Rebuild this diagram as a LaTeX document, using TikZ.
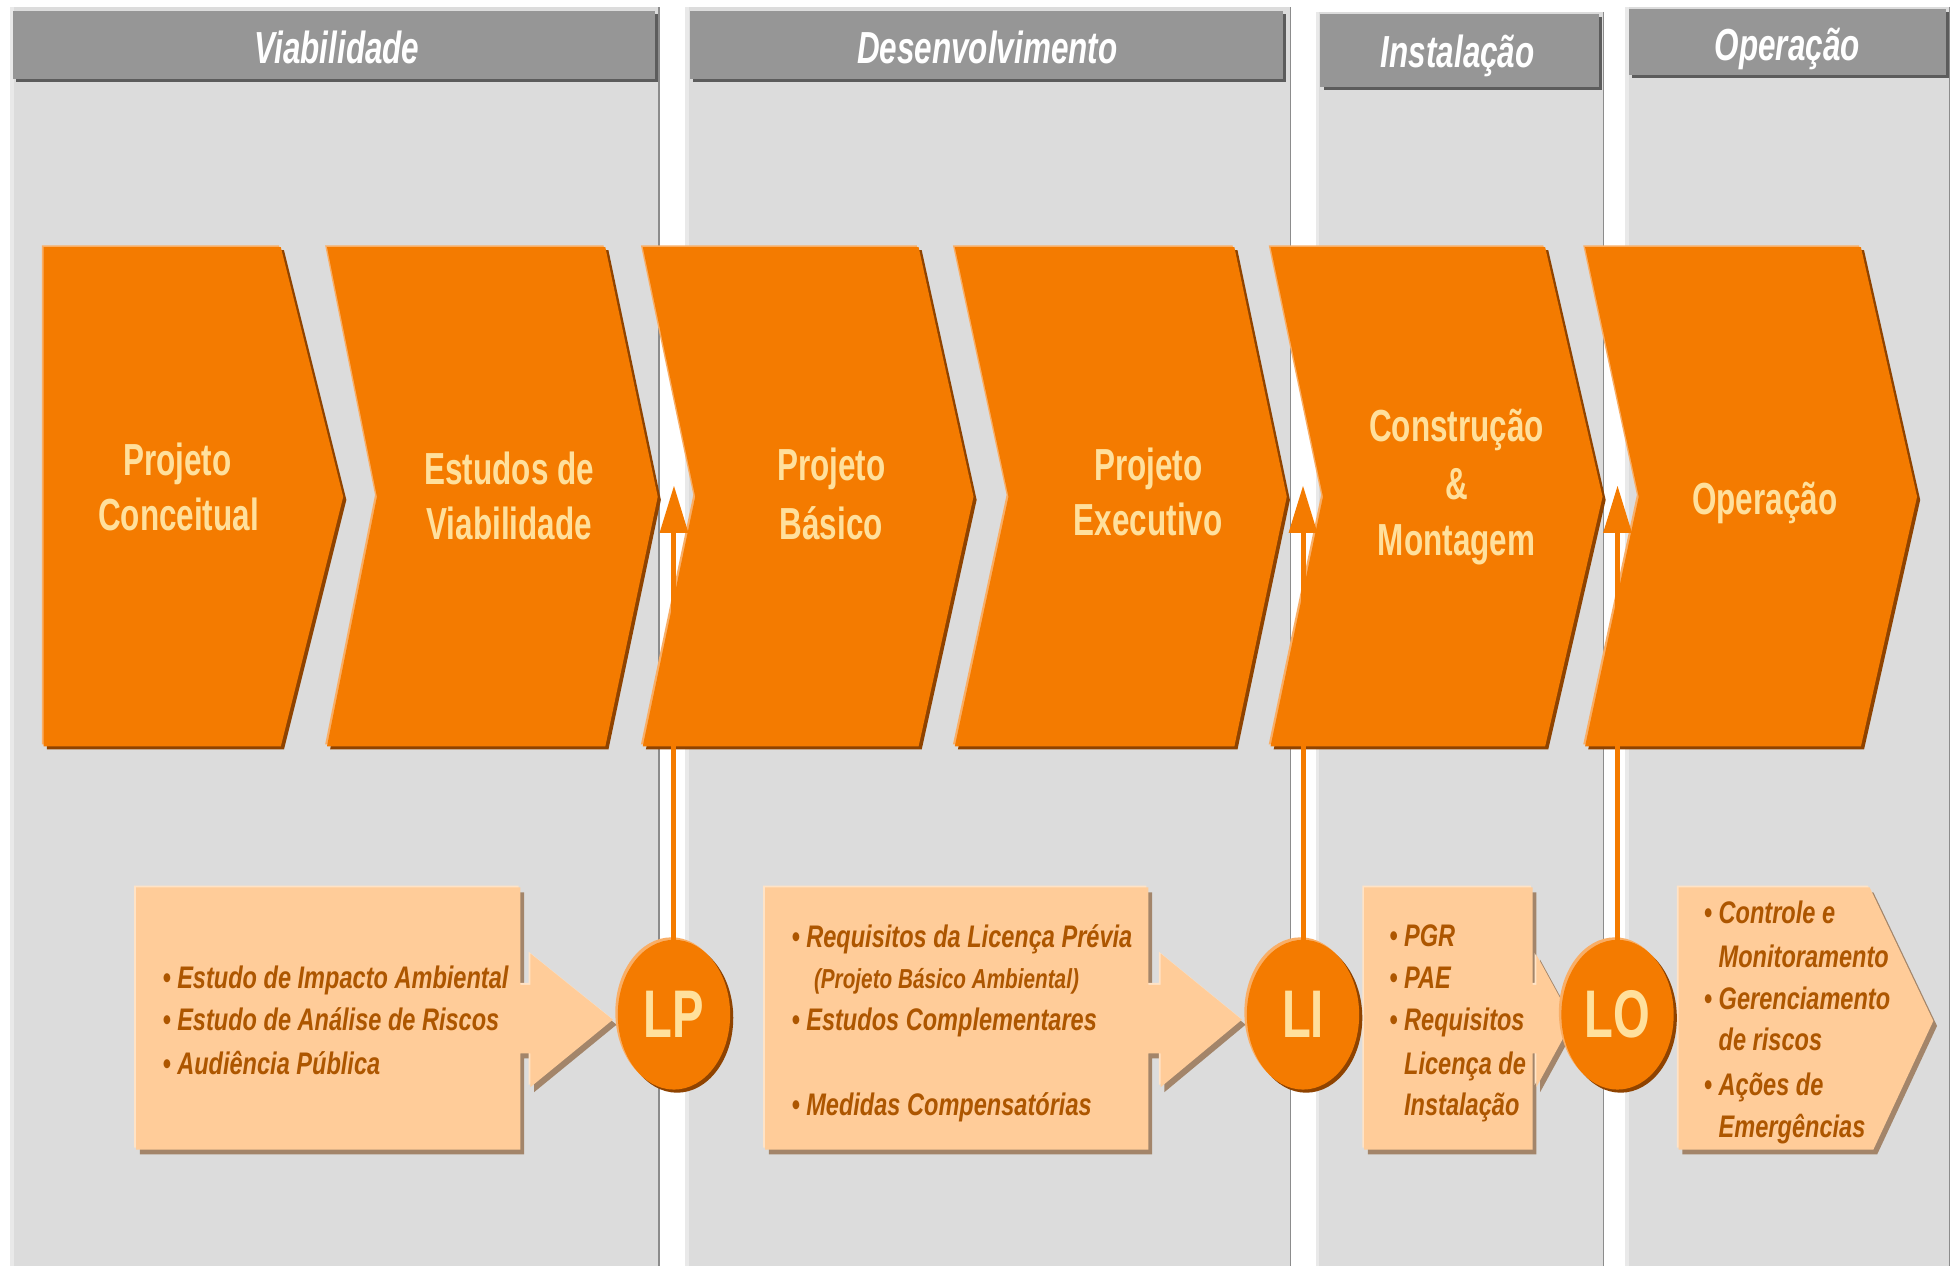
\documentclass[tikz,border=0pt]{standalone}
\usepackage{fontspec}
\newfontfamily\narrowsans{Liberation Sans}[FakeStretch=0.70]
\newfontfamily\boxsans{Liberation Sans}[FakeStretch=0.755]
\usetikzlibrary{shapes.geometric,arrows.meta}
\definecolor{chev}{HTML}{F47B00}
\definecolor{chevdark}{HTML}{8F4300}
\definecolor{chevlight}{HTML}{F9AE66}
\definecolor{chevtext}{HTML}{FFE09C}
\definecolor{boxfill}{HTML}{FFCC99}
\definecolor{boxdark}{HTML}{A3856A}
\definecolor{boxlight}{HTML}{FFE3C6}
\definecolor{boxtext}{HTML}{AD5600}
\definecolor{panelgray}{HTML}{DCDCDC}
\definecolor{panellight}{HTML}{E9E9E9}
\definecolor{panelline}{HTML}{8C8C8C}
\definecolor{headgray}{HTML}{969696}
\definecolor{headdark}{HTML}{5C5C5C}
\begin{document}
\begin{tikzpicture}[x=1pt,y=-1pt,
  headbar/.style={fill=headgray, preaction={fill=headdark, transform canvas={shift={(2.5pt,-2.5pt)}}}},
  headtxt/.style={text=white, font=\narrowsans\bfseries\itshape\fontsize{36}{44}\selectfont, anchor=base, inner sep=0pt},
  chevshape/.style={fill=chev, preaction={fill=chevdark, transform canvas={shift={(2.5pt,-2.5pt)}}}, preaction={fill=chevlight, transform canvas={shift={(-1.5pt,1.5pt)}}}},
  chevtxt/.style={text=chevtext, font=\narrowsans\bfseries\fontsize{36}{44}\selectfont, anchor=base, inner sep=0pt},
  boxshape/.style={fill=boxfill, preaction={fill=boxdark, transform canvas={shift={(3pt,-4pt)}}}, preaction={fill=boxlight, transform canvas={shift={(-1.5pt,1.5pt)}}}},
  boxtxt/.style={text=boxtext, font=\boxsans\bfseries\itshape\fontsize{25}{30}\selectfont, anchor=base west, inner sep=0pt},
  subtxt/.style={text=boxtext, font=\boxsans\bfseries\itshape\fontsize{22}{26}\selectfont, anchor=base west, inner sep=0pt},
  lic/.style={ellipse, minimum width=90pt, minimum height=120pt, inner sep=0pt, fill=chev, text=chevtext, font=\narrowsans\bfseries\fontsize{54}{60}\selectfont, preaction={fill=chevdark, transform canvas={shift={(2.5pt,-2.5pt)}}}, preaction={fill=chevlight, transform canvas={shift={(-2pt,2pt)}}}},
  licarrow/.style={draw=chev, line width=4pt, -{Triangle[width=22pt,length=38pt]}}
]
\useasboundingbox (0,0) rectangle (1568,1014);
\fill[white] (0,0) rectangle (1568,1014);
% panels
\foreach \l/\r/\t in {8/528/6, 549/1034/6, 1054/1285/9.5, 1302/1562/5.5}{
  \fill[panelgray] (\l,\t) rectangle (\r,1014);
  \fill[panellight] (\l,\t) rectangle (\l+3,1014);
  \draw[panelline, line width=1pt] (\r,\t) -- (\r,1014);
}
% headers
\fill[headbar] (10.5,8.5) rectangle (525,63);
\fill[headbar] (553,8.5) rectangle (1028,63);
\fill[headbar] (1058,11.5) rectangle (1281,69.5);
\fill[headbar] (1305,7.5) rectangle (1559,60);
\node[headtxt] (hv) at (270,51) {Viabilidade};
\node[headtxt] (hd) at (791,51) {Desenvolvimento};
\node[headtxt] (hi) at (1168,54) {Instalação};
\node[headtxt] (ho) at (1432,48.5) {Operação};
% chevrons
\fill[chevshape] (35,198) -- (225,198) -- (275,398) -- (225,598) -- (35,598) -- cycle;
\fill[chevshape] (262,198) -- (485,198) -- (527,398) -- (485,598) -- (262,598) -- (302,398) -- cycle;
\fill[chevshape] (515,198) -- (736,198) -- (780,398) -- (736,598) -- (515,598) -- (557,398) -- cycle;
\fill[chevshape] (765,198) -- (989,198) -- (1031,398) -- (989,598) -- (765,598) -- (808,398) -- cycle;
\fill[chevshape] (1018,198) -- (1238,198) -- (1284,398) -- (1238,598) -- (1018,598) -- (1060,398) -- cycle;
\fill[chevshape] (1270,198) -- (1491,198) -- (1536,398) -- (1491,598) -- (1270,598) -- (1313,398) -- cycle;
\node[chevtxt] (c1a) at (142,381) {Projeto};
\node[chevtxt] (c1b) at (143,425) {Conceitual};
\node[chevtxt] (c2a) at (408,388) {Estudos de};
\node[chevtxt] (c2b) at (408,432) {Viabilidade};
\node[chevtxt] (c3a) at (666,385) {Projeto};
\node[chevtxt] (c3b) at (666,432) {Básico};
\node[chevtxt] (c4a) at (920,385) {Projeto};
\node[chevtxt] (c4b) at (920,429) {Executivo};
\node[chevtxt] (c5a) at (1167,354) {Construção};
\node[chevtxt] (c5b) at (1167,400) {\&};
\node[chevtxt] (c5c) at (1167,445) {Montagem};
\node[chevtxt] (c6a) at (1414,412) {Operação};
% boxes
\fill[boxshape] (109,711) -- (417,711) -- (417,789) -- (425,789) -- (425,764) -- (491,817) -- (425,871) -- (425,844) -- (417,844) -- (417,921) -- (109,921) -- cycle;
\fill[boxshape] (613,711) -- (920,711) -- (920,789) -- (930,789) -- (930,764) -- (995,817) -- (930,871) -- (930,844) -- (920,844) -- (920,921) -- (613,921) -- cycle;
\fill[boxshape] (1093,711) -- (1228,711) -- (1228,789) -- (1231,789) -- (1231,765) -- (1260,818) -- (1231,871) -- (1231,844) -- (1228,844) -- (1228,921) -- (1093,921) -- cycle;
\fill[boxshape] (1345,711) -- (1498,711) -- (1549,818) -- (1501,921) -- (1345,921) -- cycle;
\node[boxtxt] (b1a) at (130,792) {• Estudo de Impacto Ambiental};
\node[boxtxt] (b1b) at (130,826) {• Estudo de Análise de Riscos};
\node[boxtxt] (b1c) at (130,861) {• Audiência Pública};
\node[boxtxt] (b2a) at (634,759) {• Requisitos da Licença Prévia};
\node[subtxt] (b2b) at (652,792) {(Projeto Básico Ambiental)};
\node[boxtxt] (b2c) at (634,826) {• Estudos Complementares};
\node[boxtxt] (b2d) at (634,894) {• Medidas Compensatórias};
\node[boxtxt] (b3a) at (1113,758) {• PGR};
\node[boxtxt] (b3b) at (1113,792) {• PAE};
\node[boxtxt] (b3c) at (1113,826) {• Requisitos};
\node[boxtxt] (b3d) at (1113,861) {\phantom{• }Licença de};
\node[boxtxt] (b3e) at (1113,894) {\phantom{• }Instalação};
\node[boxtxt] (b4a) at (1365,740) {• Controle e};
\node[boxtxt] (b4b) at (1365,775) {\phantom{• }Monitoramento};
\node[boxtxt] (b4c) at (1365,809) {• Gerenciamento};
\node[boxtxt] (b4d) at (1365,842) {\phantom{• }de riscos};
\node[boxtxt] (b4e) at (1365,878) {• Ações de};
\node[boxtxt] (b4f) at (1365,911) {\phantom{• }Emergências};
% licences
\node[lic] (LP) at (540,813) {LP};
\node[lic] (LI) at (1044,813) {LI};
\node[lic] (LO) at (1296,813) {LO};
\coordinate (LPtip) at (540,389);
\coordinate (LItip) at (1044,389);
\coordinate (LOtip) at (1296,389);
\draw[licarrow] (LP.north) -- (LPtip);
\draw[licarrow] (LI.north) -- (LItip);
\draw[licarrow] (LO.north) -- (LOtip);
\end{tikzpicture}
\end{document}
